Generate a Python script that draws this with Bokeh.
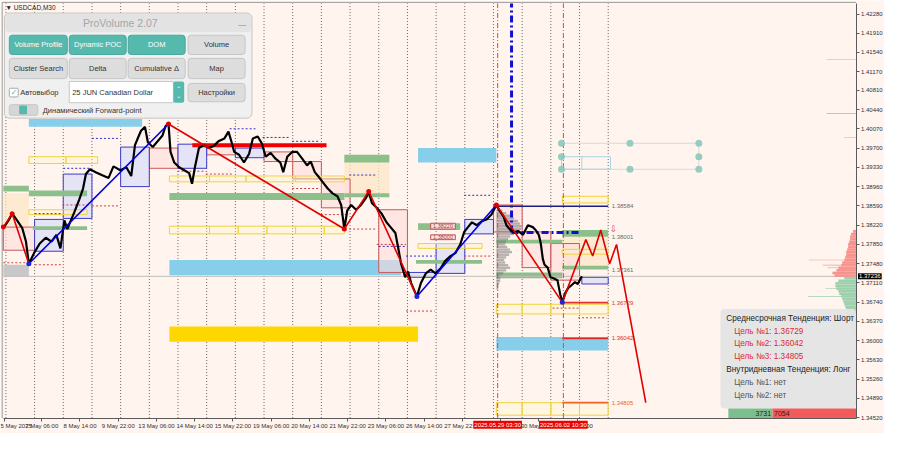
from bokeh.plotting import figure
from bokeh.models import Range1d, FixedTicker, PrintfTickFormatter, Label, BoxAnnotation
from bokeh.core.properties import value
from bokeh.embed import file_html
from bokeh.resources import INLINE

# ---------------- data (x = trading days since 6 May 2025 00:00, y = price) ----------------
PRICE_DAYS = [-0.09, 0.09, 0.22, 0.39, 0.57, 0.70, 0.80, 0.98, 1.18, 1.39, 1.59, 1.76, 1.90, 2.04, 2.14,
              2.38, 2.55, 2.69, 2.79, 2.93, 3.13, 3.34, 3.58, 3.75, 3.99, 4.20, 4.37, 4.50, 4.61, 4.71,
              4.85, 4.95, 5.12, 5.29, 5.46, 5.57, 5.67, 5.74, 5.87, 6.04, 6.22, 6.39, 6.49, 6.59, 6.73,
              6.90, 7.07, 7.24, 7.41, 7.62, 7.76, 7.86, 7.96, 8.13, 8.30, 8.48, 8.61, 8.78, 8.92, 9.06,
              9.23, 9.40, 9.57, 9.67, 9.81, 9.98, 10.15, 10.33, 10.50, 10.63, 10.77, 10.91, 11.04, 11.22,
              11.39, 11.56, 11.69, 11.80, 11.90, 12.04, 12.21, 12.38, 12.55, 12.65, 12.76, 12.93, 13.10,
              13.27, 13.44, 13.58, 13.68, 13.78, 13.92, 14.02, 14.13, 14.33, 14.47, 14.64, 14.81, 14.98,
              15.15, 15.32, 15.50, 15.67, 15.84, 15.98, 16.11, 16.25, 16.42, 16.59, 16.76, 16.93, 17.10,
              17.21, 17.35, 17.45, 17.59, 17.72, 17.86, 18.03, 18.20, 18.37, 18.47, 18.58, 18.65, 18.72,
              18.78, 18.89, 18.99, 19.09, 19.23, 19.33, 19.40, 19.51, 19.61, 19.73, 19.84, 19.94, 20.08]
PRICE_VALS = [1.38163, 1.38312, 1.38441, 1.38312, 1.38163, 1.37904, 1.37477, 1.37681, 1.37866, 1.37978,
              1.37904, 1.38033, 1.37774, 1.38312, 1.38145, 1.38460, 1.38701, 1.38924, 1.39202, 1.39294,
              1.39239, 1.39183, 1.39128, 1.39350, 1.39276, 1.39332, 1.39165, 1.39758, 1.39906, 1.40036,
              1.40110, 1.39814, 1.39721, 1.39832, 1.39944, 1.40129, 1.40166, 1.39628, 1.39424, 1.39332,
              1.39276, 1.39220, 1.39016, 1.39332, 1.39702, 1.39758, 1.39702, 1.39740, 1.39832, 1.39888,
              1.40018, 1.39832, 1.39628, 1.39573, 1.39424, 1.39591, 1.39888, 1.39925, 1.39795, 1.39536,
              1.39610, 1.39498, 1.39424, 1.39239, 1.39536, 1.39628, 1.39628, 1.39498, 1.39369, 1.39443,
              1.39239, 1.39146, 1.39053, 1.38924, 1.38831, 1.38775, 1.38608, 1.38145, 1.38497, 1.38608,
              1.38516, 1.38608, 1.38738, 1.38868, 1.38645, 1.38553, 1.38441, 1.38274, 1.38163, 1.38070,
              1.37774, 1.37477, 1.37217, 1.37329, 1.37106, 1.36846, 1.37106, 1.37292, 1.37366, 1.37292,
              1.37384, 1.37533, 1.37625, 1.37681, 1.37848, 1.38089, 1.38182, 1.38274, 1.38219, 1.38293,
              1.38330, 1.38423, 1.38608, 1.38497, 1.38386, 1.38219, 1.38126, 1.38089, 1.38108, 1.38033,
              1.38219, 1.38182, 1.38126, 1.38033, 1.37866, 1.37570, 1.37458, 1.37403, 1.37217, 1.37199,
              1.37162, 1.36883, 1.36735, 1.36921, 1.37013, 1.37069, 1.37125, 1.37088, 1.37236]
LAST_PRICE = 1.37236

ZZ_DAYS = [-0.09, 0.22, 0.80, 5.67, 11.80, 12.65, 14.33, 17.10, 19.40]
ZZ_PRICES = [1.38182, 1.38441, 1.37477, 1.40166, 1.38145, 1.38868, 1.36846, 1.38608, 1.36735]
ZZ_COLORS = ["#E00000", "#E00000", "#0000E6", "#E00000", "#E00000", "#E00000", "#0000E6", "#E00000"]
ZZ_DOT_COLORS = ["#E00000", "#E00000", "#2020E0", "#E00000", "#E00000", "#E00000", "#2020E0", "#E00000", "#2020E0"]

PROJ_DAYS = [19.40, 20.22, 20.46, 20.74, 21.05, 21.29, 22.31]
PROJ_PRICES = [1.36735, 1.37941, 1.37626, 1.38126, 1.37477, 1.37848, 1.34806]

TARGETS = [1.36729, 1.36042, 1.34805]
TARGET_COLORS = ["#E03030", "#E02828", "#F06428"]
LEVELS = [1.38584, 1.38001, 1.37361]
HIGH_LINE = 1.38584

SKY_ZONES = [(0.80, 4.75, 1.40111, 1.40259), (5.70, 13.78, 1.37254, 1.37551),
             (14.37, 17.10, 1.39424, 1.39702), (17.10, 21.00, 1.35808, 1.36068)]
GOLD_ZONES = [(5.70, 14.37, 1.35975, 1.36272)]
WHEAT_ZONES = [(-0.09, 0.80, 1.38089, 1.38831), (11.80, 13.37, 1.38757, 1.39572), (19.40, 21.00, 1.37384, 1.37996)]
GREEN_ZONES = [(-0.09, 0.80, 1.38868, 1.38979), (0.80, 2.83, 1.38775, 1.38886), (0.94, 2.83, 1.38126, 1.38200),
               (5.70, 11.80, 1.38701, 1.38840), (11.80, 13.37, 1.39424, 1.39572), (11.80, 13.37, 1.38757, 1.38831),
               (14.37, 15.84, 1.38126, 1.38256), (14.30, 16.60, 1.37477, 1.37551), (17.10, 19.40, 1.37866, 1.37940),
               (19.40, 21.00, 1.37996, 1.38126), (19.40, 21.00, 1.37366, 1.37440), (17.10, 19.40, 1.37199, 1.37310)]
GRAY_ZONES = [(-0.09, 0.80, 1.37236, 1.37458)]
LAV_BOXES = [(1.0, 2.0, 1.37718, 1.38330), (2.0, 3.0, 1.38349, 1.39202), (4.0, 5.0, 1.38961, 1.39721),
             (6.0, 7.0, 1.39313, 1.39777), (8.0, 9.0, 1.39517, 1.39702), (14.0, 15.0, 1.37217, 1.37310),
             (15.0, 16.0, 1.37292, 1.37866), (16.0, 17.0, 1.38052, 1.38330), (20.08, 21.0, 1.37088, 1.37217)]
PINK_BOXES = [(-0.09, 1.0, 1.37737, 1.38182), (5.0, 6.0, 1.39313, 1.39702), (7.0, 8.0, 1.39572, 1.39758),
              (9.0, 10.0, 1.39443, 1.39628), (10.0, 11.0, 1.39109, 1.39443), (11.0, 12.0, 1.38553, 1.39109),
              (13.0, 14.0, 1.37310, 1.38516), (17.0, 18.0, 1.38089, 1.38608), (18.0, 19.0, 1.37403, 1.38089),
              (19.0, 20.0, 1.37162, 1.37866)]
YELLOW_BOXES = [(0.80, 2.10, 1.39406, 1.39536), (2.10, 3.20, 1.39406, 1.39536), (0.80, 2.83, 1.38423, 1.38516),
                (5.70, 7.10, 1.39053, 1.39165), (7.10, 8.37, 1.39053, 1.39165), (8.37, 10.10, 1.39053, 1.39165),
                (10.10, 11.80, 1.39053, 1.39165), (5.70, 7.10, 1.38052, 1.38200), (7.10, 8.10, 1.38052, 1.38200),
                (8.10, 9.10, 1.38052, 1.38200), (9.10, 10.10, 1.38052, 1.38200), (10.10, 11.10, 1.38052, 1.38200),
                (11.10, 11.80, 1.38052, 1.38200), (14.37, 16.60, 1.37774, 1.37866), (19.40, 21.00, 1.38646, 1.38775),
                (19.40, 21.00, 1.37663, 1.37755), (17.10, 18.00, 1.36512, 1.36698), (18.00, 19.00, 1.36512, 1.36698),
                (19.00, 20.00, 1.36512, 1.36698), (20.00, 21.00, 1.36512, 1.36698), (17.10, 18.00, 1.34565, 1.34806),
                (18.00, 19.00, 1.34565, 1.34806), (19.00, 20.00, 1.34565, 1.34806), (20.00, 21.00, 1.34565, 1.34806)]
BLUE_DASH = [(1.0, 1.97, 1.38441), (2.0, 2.97, 1.39313), (3.0, 3.92, 1.39888), (7.8, 8.7, 1.40073),
             (8.95, 9.9, 1.39906), (9.98, 10.94, 1.39832), (11.97, 12.93, 1.39183), (13.0, 13.92, 1.37811),
             (13.95, 14.95, 1.37625), (15.98, 16.93, 1.38794)]
RED_DASH = [(3.0, 3.92, 1.38590), (-0.09, 0.8, 1.37496), (1.01, 1.97, 1.37458), (1.97, 2.96, 1.38608),
            (5.98, 6.97, 1.39257), (6.97, 7.93, 1.39202), (9.98, 10.94, 1.38924), (10.98, 11.97, 1.38423),
            (11.97, 12.93, 1.38145), (12.93, 13.95, 1.37848), (13.95, 14.95, 1.36568), (15.98, 16.93, 1.37625),
            (19.06, 20.02, 1.36624), (19.95, 20.94, 1.36438)]
TAG_BOXES = [(14.81, 15.67, 1.38145, 1.38256, "1.38220"), (14.81, 15.67, 1.37941, 1.38033, "1.38000")]

VLINE_RED_DAYS = [17.146, 19.4375]
VLINE_RED_TEXT = ["2025.05.29 03:30", "2025.06.02 10:30"]
BLUE_VLINE_DAY = 17.63
BLUE_HLINE = (17.63, 20.02, 1.38076)

HANDLE_DAYS = [19.37, 21.76, 24.16, 19.37, 24.16, 19.37, 21.76, 24.16]
HANDLE_PRICES = [1.39795, 1.39795, 1.39795, 1.39536, 1.39536, 1.39295, 1.39295, 1.39295]

VP_UP_PRICES = [1.3725, 1.3730, 1.3735, 1.3740, 1.3745, 1.3750, 1.3755, 1.3760, 1.3765,
                1.3770, 1.3775, 1.3780, 1.3785, 1.3790, 1.3795, 1.3800, 1.3805, 1.3810]
VP_UP_VOL = [22, 24, 20, 18, 15, 14, 12, 11, 10, 10, 9, 8, 8, 7, 6, 6, 5, 3]
VP_DN_PRICES = [1.3720, 1.3715, 1.3710, 1.3705, 1.3700, 1.3695, 1.3690, 1.3685, 1.3680, 1.3675, 1.3670, 1.3665,
                1.3660, 1.3655, 1.3650, 1.3645, 1.3640, 1.3635, 1.3630, 1.3625, 1.3620, 1.3615, 1.3610]
VP_DN_VOL = [12, 18, 21, 21, 20, 18, 17, 15, 14, 13, 12, 11, 10, 9, 9, 8, 7, 6, 5, 5, 4, 3, 3]
VP_SPIKE_PRICES = [1.4141, 1.4037, 1.3991, 1.3755, 1.3745, 1.3740, 1.3700, 1.3685]
VP_SPIKE_VOL = [30, 30, 12, 48, 34, 29, 31, 49]
GP_PRICES = [1.3850, 1.3845, 1.3840, 1.3835, 1.3830, 1.3825, 1.3820, 1.3815, 1.3810, 1.3805, 1.3800,
             1.3795, 1.3790, 1.3785, 1.3780, 1.3775, 1.3770, 1.3765, 1.3760, 1.3755, 1.3750, 1.3745,
             1.3740, 1.3735, 1.3730, 1.3725, 1.3720, 1.3715, 1.3710, 1.3705, 1.3700]
GP_VOL = [6, 10, 14, 18, 22, 24, 26, 25, 22, 18, 14, 12, 10, 9, 11, 14, 16, 13, 10, 8, 9, 12, 14, 10, 7,
          5, 4, 4, 3, 2, 2]
BUY_VOL, SELL_VOL = 3731, 7054

Y_TICKS = [1.34520, 1.34890, 1.35260, 1.35630, 1.36000, 1.36370, 1.36740, 1.37110, 1.37480, 1.37850, 1.38220,
           1.38590, 1.38960, 1.39330, 1.39700, 1.40070, 1.40440, 1.40810, 1.41170, 1.41540, 1.41910, 1.42280]
X_TICKS = [-0.05, 1.25, 2.583, 3.917, 5.25, 6.583, 7.917, 9.25, 10.583, 11.917, 13.25, 14.583, 15.917,
           17.25, 18.583, 19.917]
X_LABELS = ["5 May 2025", "7 May 06:00", "8 May 14:00", "9 May 22:00", "13 May 06:00", "14 May 14:00",
            "15 May 22:00", "19 May 06:00", "20 May 14:00", "21 May 22:00", "23 May 06:00", "26 May 14:00",
            "27 May 22:00", "29 May 06:00", "30 May 14:00", "2 Jun 22:00"]
DAY_LINES = list(range(0, 22))

INFO_LINES = [("Среднесрочная Тенденция: Шорт", 0, "#222222"),
              ("Цель №1: 1.36729", 1, "#E0282E"),
              ("Цель №2: 1.36042", 1, "#E0282E"),
              ("Цель №3: 1.34805", 1, "#E0282E"),
              ("Внутридневная Тенденция: Лонг", 0, "#222222"),
              ("Цель №1: нет", 1, "#555555"),
              ("Цель №2: нет", 1, "#555555")]

# ---------------- figure: frame fills the canvas, axes drawn at fixed locations ----------------
PX_PER_DAY = 29.2
PX_PER_PRICE = 5392.0
XMIN, XMAX = (0 - 5.5) / PX_PER_DAY, (900 - 5.5) / PX_PER_DAY
YMAX = 1.42540
YMIN = YMAX - 449 / PX_PER_PRICE
X0, X1 = -0.09, 29.64          # chart area (left edge, price axis)
Y0, Y1 = 1.34510, 1.42484      # chart area (time axis, top edge)
BG = "#FFF5EE"
FONT = "Liberation Sans"

p = figure(width=884, height=433, x_range=Range1d(XMIN, XMAX), y_range=Range1d(YMIN, YMAX),
           output_backend="svg", toolbar_location=None, y_axis_location="right",
           min_border_left=0, min_border_top=0, min_border_right=0, min_border_bottom=0)
p.background_fill_color = BG
p.border_fill_color = BG
p.outline_line_color = None
p.grid.visible = False

p.xaxis.fixed_location = Y0
p.yaxis.fixed_location = X1
p.xaxis.bounds = (X0, X1)
p.yaxis.bounds = (Y0, Y1)
for ax in (p.xaxis[0], p.yaxis[0]):
    ax.axis_line_color = "#5A5A5A"
    ax.major_tick_line_color = "#5A5A5A"
    ax.major_tick_out = 3
    ax.major_tick_in = 0
    ax.minor_tick_line_color = None
    ax.major_label_text_font = FONT
    ax.major_label_text_font_size = "6px"
    ax.major_label_text_color = "#303030"
    ax.major_label_standoff = 2
p.yaxis.ticker = FixedTicker(ticks=Y_TICKS)
p.yaxis.formatter = PrintfTickFormatter(format="%.5f")
p.xaxis.ticker = FixedTicker(ticks=X_TICKS)
p.xaxis.major_label_overrides = {t: s for t, s in zip(X_TICKS, X_LABELS)}
p.xaxis.major_label_text_align = "left"

# chart window border (top and left)
p.segment(x0=[X0 - 0.04, X0 - 0.04], y0=[Y1 + 0.0002, Y1 + 0.0002], x1=[X1, X0 - 0.04], y1=[Y1 + 0.0002, Y0],
          line_color="#9A9A9A", line_width=1)


def quads(boxes, fill, alpha, line=None, lw=1.0, line_alpha=1.0):
    p.quad(left=[b[0] for b in boxes], right=[b[1] for b in boxes],
           bottom=[b[2] for b in boxes], top=[b[3] for b in boxes],
           fill_color=fill, fill_alpha=alpha, line_color=line, line_width=lw, line_alpha=line_alpha)


# day separators
p.segment(x0=DAY_LINES, y0=[Y0] * len(DAY_LINES), x1=DAY_LINES, y1=[Y1] * len(DAY_LINES),
          line_color="#444444", line_width=1, line_dash="1 2", line_alpha=0.8)

quads(WHEAT_ZONES, "#FCE6C4", 0.7)
quads(SKY_ZONES, "#87CEEB", 1.0)
quads(GOLD_ZONES, "#FFD700", 1.0)
quads(GRAY_ZONES, "#C8C8C8", 1.0)
quads(PINK_BOXES, "#FFDCDC", 0.6, line="#C85A5A", lw=1)
quads(LAV_BOXES, "#DCDCF8", 0.75, line="#3C3CC8", lw=1)
quads(GREEN_ZONES, "#8DBF8B", 1.0)
quads(YELLOW_BOXES, "#FFF7C8", 0.35, line="#F0D23C", lw=1)

# session gray volume profile
p.hbar(y=GP_PRICES, left=[17.10] * len(GP_PRICES), right=[17.10 + v / PX_PER_DAY for v in GP_VOL],
       height=0.00045, fill_color="#7A7A7A", fill_alpha=0.55, line_color=None)

# short dashed levels
p.segment(x0=[d[0] for d in BLUE_DASH], x1=[d[1] for d in BLUE_DASH], y0=[d[2] for d in BLUE_DASH],
          y1=[d[2] for d in BLUE_DASH], line_color="#3030C8", line_dash="2 2", line_width=1)
p.segment(x0=[d[0] for d in RED_DASH], x1=[d[1] for d in RED_DASH], y0=[d[2] for d in RED_DASH],
          y1=[d[2] for d in RED_DASH], line_color="#D04040", line_dash="2 2", line_width=1)

# red thick line
p.segment(x0=[6.5], x1=[11.18], y0=[1.39758], y1=[1.39758], line_color="#F00000", line_width=4)

# current price line
p.segment(x0=[X0], x1=[X1], y0=[LAST_PRICE], y1=[LAST_PRICE], line_color="#BDBDBD", line_width=1)

# right volume profile
p.hbar(y=VP_UP_PRICES, left=[X1 - v / PX_PER_DAY for v in VP_UP_VOL], right=[X1] * len(VP_UP_VOL),
       height=0.0005, fill_color="#F8928C", line_color=None)
p.hbar(y=VP_DN_PRICES, left=[X1 - v / PX_PER_DAY for v in VP_DN_VOL], right=[X1] * len(VP_DN_VOL),
       height=0.0005, fill_color="#9ED0AE", line_color=None)
p.hbar(y=VP_SPIKE_PRICES, left=[X1 - v / PX_PER_DAY for v in VP_SPIKE_VOL], right=[X1] * len(VP_SPIKE_VOL),
       height=0.00012, fill_color=["#F49A94" if y > LAST_PRICE else "#9ED0AE" for y in VP_SPIKE_PRICES],
       line_color=None)

# verticals
p.segment(x0=VLINE_RED_DAYS, x1=VLINE_RED_DAYS, y0=[Y0] * 2, y1=[Y1] * 2,
          line_color="#D84848", line_width=1, line_dash="5 2 1 2")
p.segment(x0=[BLUE_VLINE_DAY], x1=[BLUE_VLINE_DAY], y0=[BLUE_HLINE[2]], y1=[Y1],
          line_color="#1010D0", line_width=3, line_dash="7 3 2 3")
p.segment(x0=[BLUE_HLINE[0]], x1=[BLUE_HLINE[1]], y0=[BLUE_HLINE[2]], y1=[BLUE_HLINE[2]],
          line_color="#1010D0", line_width=3, line_dash="7 3 2 3")

# target / level lines
p.segment(x0=[17.10], x1=[21.0], y0=[HIGH_LINE], y1=[HIGH_LINE], line_color="#1E1E82", line_width=1.6)
p.segment(x0=[19.40] * 3, x1=[21.0] * 3, y0=TARGETS, y1=TARGETS, line_color=TARGET_COLORS, line_width=1.8)

# tagged boxes
quads(TAG_BOXES, "#FBE4E4", 0.9, line="#C05050", lw=1)
p.text(x=[(b[0] + b[1]) / 2 for b in TAG_BOXES], y=[(b[2] + b[3]) / 2 for b in TAG_BOXES],
       text=[b[4] for b in TAG_BOXES], text_font=value(FONT), text_font_size="5.5px",
       text_color="#B03A3A", text_align="center", text_baseline="middle")

# teal handle object
p.segment(x0=[19.37, 19.37, 24.16], x1=[24.16, 24.16, 24.16], y0=[1.39795, 1.39295, 1.39295],
          y1=[1.39795, 1.39295, 1.39795], line_color="#D8D8D8", line_width=1)
p.quad(left=[19.37], right=[21.08], bottom=[1.39295], top=[1.39536], fill_color=None,
       line_color="#A6D6E6", line_width=1)
p.segment(x0=[20.08], x1=[20.08], y0=[1.39295], y1=[1.39536], line_color="#A6D6E6", line_width=1)
p.scatter(HANDLE_DAYS, HANDLE_PRICES, size=7, fill_color="#86C6BA", fill_alpha=0.85, line_color=None)

# price path
p.line(PRICE_DAYS, PRICE_VALS, line_color="#000000", line_width=2.2)

# zigzag
p.segment(x0=ZZ_DAYS[:-1], y0=ZZ_PRICES[:-1], x1=ZZ_DAYS[1:], y1=ZZ_PRICES[1:],
          line_color=ZZ_COLORS, line_width=1.6)
p.line(PROJ_DAYS, PROJ_PRICES, line_color="#E00000", line_width=1.6)
p.scatter(ZZ_DAYS, ZZ_PRICES, size=5, fill_color=ZZ_DOT_COLORS, line_color=None)

# right-side level labels
p.text(x=[21.12] * 3, y=LEVELS, text=["%.5f" % v for v in LEVELS], text_font=value(FONT),
       text_font_size="6px", text_color="#6A6A6A", text_baseline="middle")
p.text(x=[21.12] * 3, y=TARGETS, text=["%.5f" % v for v in TARGETS], text_font=value(FONT),
       text_font_size="6px", text_color=TARGET_COLORS, text_baseline="middle")
p.text(x=[21.05], y=[1.38150], text=["⇩"], text_font=value("DejaVu Sans"), text_font_size="9px",
       text_color="#E04040", text_baseline="middle")


# ---------------- overlay panels (positions in reference pixels) ----------------
def rx(px):
    return XMIN + px * (XMAX - XMIN) / 900.0


def ry(py):
    return YMAX - py * (YMAX - YMIN) / 449.0


def box(l, t, r, b, fill, alpha=1.0, line=None, radius=0):
    p.add_layout(BoxAnnotation(left=rx(l), right=rx(r), top=ry(t), bottom=ry(b),
                               fill_color=fill, fill_alpha=alpha,
                               line_color=line if line else fill, line_alpha=1.0 if line else 0.0,
                               line_width=1, border_radius=radius))


def lab(text, px, py, size=8.0, color="#333333", align="left", font=FONT):
    p.add_layout(Label(x=rx(px), y=ry(py), text=text, text_font=font, text_font_size="%spx" % size,
                       text_color=color, text_align=align, text_baseline="middle"))


lab("▼ USDCAD,M30", 5, 7, 6.5, "#222222")

# ProVolume panel
TEAL = "#55B9AD"
box(4, 13, 256, 122, "#F0F0F0", 0.97, "#C4C4C4", 5)
box(5, 14, 255, 33, "#E3E3E3", 1.0, None, 4)
lab("ProVolume 2.07", 122, 23, 10.5, "#A6A6A6", "center")
lab("—", 246, 25, 8, "#8A8A8A", "center")
BTN_X = [(9, 68), (70, 128), (130, 188), (191, 249)]
ROW1 = ["Volume Profile", "Dynamic POC", "DOM", "Volume"]
ROW2 = ["Cluster Search", "Delta", "Cumulative Δ", "Map"]
for i, (x0, x1) in enumerate(BTN_X):
    active = i < 3
    box(x0, 36, x1, 56, TEAL if active else "#DDDDDD", 1.0, "#4AA89C" if active else "#C6C6C6", 3)
    lab(ROW1[i], (x0 + x1) / 2, 45.5, 7.5, "#FFFFFF" if active else "#333333", "center")
    box(x0, 60, x1, 81, "#DDDDDD", 1.0, "#C6C6C6", 3)
    lab(ROW2[i], (x0 + x1) / 2, 70, 7.5, "#333333", "center")
box(9, 91, 18, 100, "#FFFFFF", 1.0, "#AAAAAA", 1)
lab("✓", 13.5, 95, 8, TEAL, "center", "DejaVu Sans")
lab("Автовыбор", 20, 95.5, 7.5, "#333333")
box(70, 84, 176, 106, "#FFFFFF", 1.0, "#C8C8C8", 0)
lab("25 JUN Canadian Dollar", 73, 95.5, 7.5, "#333333")
box(176, 84, 187, 106, TEAL, 1.0, None, 2)
lab("⌃", 181.5, 91, 6, "#FFFFFF", "center", "DejaVu Sans")
lab("⌄", 181.5, 99, 6, "#FFFFFF", "center", "DejaVu Sans")
box(191, 86, 249, 105, "#DDDDDD", 1.0, "#C6C6C6", 3)
lab("Настройки", 220, 95.5, 7.5, "#333333", "center")
box(9, 108, 38, 119, "#D6D6D6", 1.0, "#C6C6C6", 2)
box(19, 109, 27, 118, TEAL, 1.0, None, 1)
lab("Динамический Forward-point", 43, 114, 7.5, "#333333")

# info panel
box(733, 320, 871, 423, "#E4E4E4", 0.95, None, 4)
for k, (txt, indent, col) in enumerate(INFO_LINES):
    lab(txt, 739 + 8 * indent, 329.5 + 13.3 * k, 8.2, col)

# buy / sell volume bar
box(741, 423, 786, 433, "#7CBF8E", 1.0, None, 0)
box(786, 423, 871, 433, "#F25B5B", 1.0, None, 0)
lab(str(BUY_VOL), 784.5, 428.5, 7, "#1E1E1E", "right")
lab(str(SELL_VOL), 787.5, 428.5, 7, "#1E1E1E", "left")

# time tags of the vertical lines, on the time axis
for d, t in zip(VLINE_RED_DAYS, VLINE_RED_TEXT):
    p.add_layout(Label(x=d, y=ry(440), text=t, text_font=FONT, text_font_size="6px",
                       text_color="#FFFFFF", text_align="center", text_baseline="middle",
                       background_fill_color="#F00000", padding=1))

# current price tag on the price axis
p.add_layout(Label(x=X1, y=LAST_PRICE, x_offset=2, text="%.5f" % LAST_PRICE, text_font=FONT,
                   text_font_size="6px", text_color="#FFFFFF", text_align="left", text_baseline="middle",
                   background_fill_color="#000000", padding=1))

open("out.html", "w").write(file_html(p, INLINE))
